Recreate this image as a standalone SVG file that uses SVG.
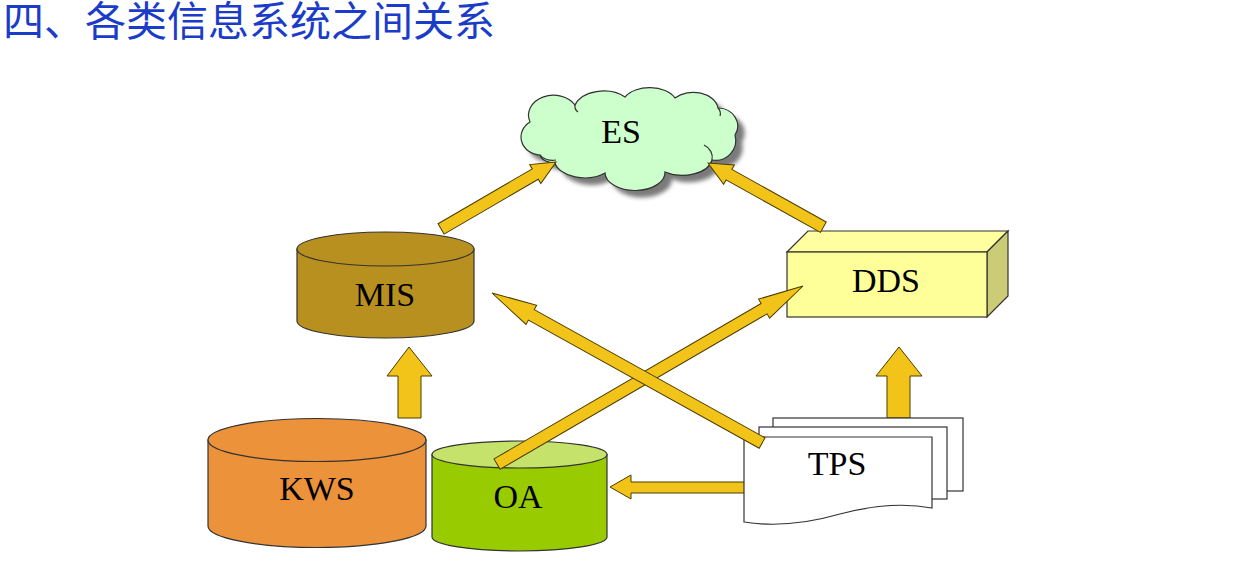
<svg xmlns="http://www.w3.org/2000/svg" width="1249" height="567" viewBox="0 0 1249 567">
<style>
.lbl{font-family:"Liberation Serif","Times New Roman",serif;font-size:34px;fill:#000;text-anchor:middle}
.arr{fill:#f2c318;stroke:#4a3c00;stroke-width:1;stroke-linejoin:miter}
.ln{stroke:#333;stroke-width:1.2}
</style>
<defs>
<filter id="blur" x="-10%" y="-10%" width="120%" height="130%"><feGaussianBlur stdDeviation="2"/></filter>
<path id="cloud" d="M540,155 A20,18 0 0 1 530,122 A25,20 0 0 1 575,105 A30,20 0 0 1 625,97 A28,18 0 0 1 675,98 A25,18 0 0 1 718,108 A20,18 0 0 1 735,135 A20,20 0 0 1 712,160 A30,18 0 0 1 665,172 A30,18 0 0 1 605,173 A30,18 0 0 1 555,163 A15,10 0 0 1 540,155 Z"/>
</defs>
<rect width="1249" height="567" fill="#fff"/>
<text x="3" y="36" font-family="'Noto Sans CJK SC','Noto Sans',sans-serif" font-size="41" fill="#1a3cc8">四、各类信息系统之间关系</text>

<g id="connectors-back">
<polygon class="arr" points="409,347 432,376 421,376 421,418 398,418 398,376 387,376"/>
<polygon class="arr" points="899,347 922,376 910,376 910,418 887,418 887,376 876,376"/>
<polygon class="arr" points="610,487 631,475 631,482 752,482 752,493 631,493 631,499"/>
</g>

<g id="ES">
<use href="#cloud" transform="translate(7,7)" fill="#7a7a7a" filter="url(#blur)"/>
<use href="#cloud" fill="#ccffcc" class="ln"/>
<path d="M540,155 A14,10 0 0 0 556,160 M712,160 A16,14 0 0 0 704,145 M575,105 A10,8 0 0 0 578,112 M718,108 A8,8 0 0 1 720,116" fill="none" class="ln" stroke-width="1"/>
<text class="lbl" x="621" y="143">ES</text>
</g>

<g id="MIS">
<path d="M297,249 V321 A88.5,17 0 0 0 474,321 V249 Z" fill="#b8901f" class="ln"/>
<ellipse cx="385.5" cy="249" rx="88.5" ry="17" fill="#b8901f" class="ln"/>
<text class="lbl" x="385" y="306">MIS</text>
</g>

<g id="DDS">
<polygon points="787,252 808,231 1008,231 987,252" fill="#ffffa0" class="ln"/>
<polygon points="987,252 1008,231 1008,296 987,317" fill="#cccc77" class="ln"/>
<rect x="787" y="252" width="200" height="65" fill="#ffff99" class="ln"/>
<text class="lbl" x="886" y="292">DDS</text>
</g>

<g id="KWS">
<path d="M208,440 V526 A109,21.5 0 0 0 426,526 V440 Z" fill="#eb923a" class="ln"/>
<ellipse cx="317" cy="440" rx="109" ry="21.5" fill="#eb923a" class="ln"/>
<text class="lbl" x="317" y="500">KWS</text>
</g>

<g id="OA">
<path d="M432,454.5 V537 A87.5,14 0 0 0 607,537 V454.5 Z" fill="#99cc00" class="ln"/>
<ellipse cx="519.5" cy="454.5" rx="87.5" ry="13.5" fill="#c5e36a" class="ln"/>
<text class="lbl" x="518" y="508">OA</text>
</g>

<g id="TPS">
<rect x="773" y="418" width="190" height="73" fill="#fff" class="ln"/>
<rect x="759" y="427" width="188" height="72" fill="#fff" class="ln"/>
<path d="M744,437 H932 V508 C900,502 870,506 840,514 C805,524 775,527 744,522 Z" fill="#fff" class="ln"/>
<text class="lbl" x="837" y="475">TPS</text>
</g>

<g id="connectors">
<polygon class="arr" transform="translate(556,162) rotate(-30.2)" points="0,0 -24,-11 -24,-6 -133,-6 -133,6 -24,6 -24,11"/>
<polygon class="arr" transform="translate(708,163) rotate(-150.9)" points="0,0 -24,-11 -24,-6 -132,-6 -132,6 -24,6 -24,11"/>
<polygon class="arr" transform="translate(803,286) rotate(-30.2)" points="0,0 -45,-11 -45,-6 -354,-6 -354,6 -45,6 -45,11"/>
<polygon class="arr" transform="translate(492,293) rotate(29.05) rotate(180)" points="0,0 -45,-11 -45,-6 -309,-6 -309,6 -45,6 -45,11"/>
</g>
</svg>
